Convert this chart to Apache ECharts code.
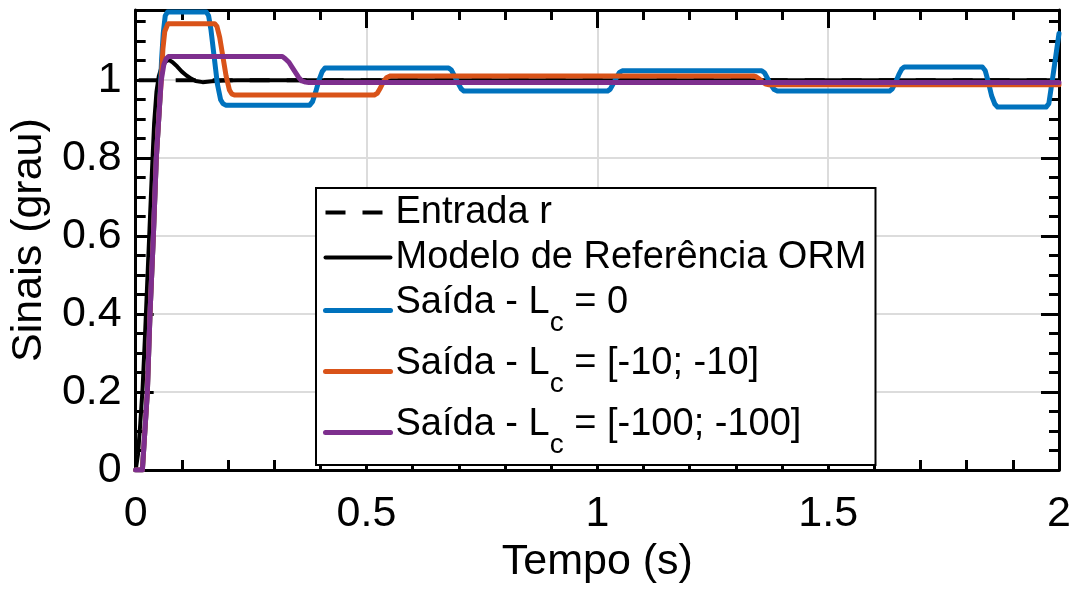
<!DOCTYPE html>
<html>
<head>
<meta charset="utf-8">
<script src="https://cdn.jsdelivr.net/npm/echarts@6/dist/echarts.min.js"></script>
<style>
  html, body { margin: 0; padding: 0; background: #fff; }
  #chart { width: 1074px; height: 589px; }
</style>
</head>
<body>
<div id="chart"></div>
<script>
// ---------- data ----------
const seriesNames = ['Entrada r', 'Modelo de Referência ORM', 'Saída - Lc = 0', 'Saída - Lc = [-10; -10]', 'Saída - Lc = [-100; -100]'];

const inputT = [0, 2];
const inputY = [1, 1];

const modelT = [0, 0.005, 0.01, 0.015, 0.02, 0.025, 0.03, 0.035, 0.04, 0.045, 0.05, 0.055, 0.065, 0.072, 0.08, 0.09, 0.10, 0.11, 0.12, 0.13, 0.145, 0.165, 0.19, 0.22, 2.0];
const modelY = [0, 0.04, 0.12, 0.21, 0.34, 0.48, 0.62, 0.76, 0.89, 0.97, 1.01, 1.03, 1.048, 1.052, 1.046, 1.035, 1.022, 1.012, 1.004, 0.998, 0.995, 0.997, 0.999, 1.0, 1.0];

const blueT = [0, 0.0145, 0.0253, 0.031, 0.0383, 0.0447, 0.0525, 0.056, 0.0597, 0.064, 0.069, 0.153, 0.158, 0.163, 0.170, 0.177, 0.184, 0.189, 0.195, 0.377, 0.383, 0.390, 0.397, 0.404, 0.410, 0.678, 0.684, 0.691, 0.698, 0.705, 0.711, 1.022, 1.028, 1.035, 1.042, 1.048, 1.054, 1.356, 1.362, 1.369, 1.376, 1.383, 1.390, 1.633, 1.639, 1.646, 1.653, 1.659, 1.665, 1.834, 1.840, 1.847, 1.854, 1.861, 1.867, 1.972, 1.978, 1.988, 2.0];
const blueY = [0, 0, 0.2, 0.4, 0.6, 0.8, 0.95, 1.05, 1.12, 1.165, 1.175, 1.175, 1.165, 1.13, 1.06, 0.99, 0.95, 0.94, 0.936, 0.936, 0.945, 0.97, 1.0, 1.022, 1.031, 1.031, 1.026, 1.01, 0.993, 0.978, 0.972, 0.972, 0.977, 0.992, 1.008, 1.02, 1.024, 1.024, 1.019, 1.004, 0.988, 0.976, 0.972, 0.972, 0.978, 0.995, 1.014, 1.028, 1.034, 1.034, 1.025, 0.995, 0.96, 0.939, 0.931, 0.931, 0.94, 1.02, 1.12];

const orangeT = [0, 0.0145, 0.0253, 0.031, 0.0383, 0.0447, 0.0525, 0.0555, 0.059, 0.063, 0.07, 0.171, 0.176, 0.182, 0.189, 0.196, 0.203, 0.208, 0.214, 0.517, 0.523, 0.530, 0.537, 0.544, 0.552, 1.338, 1.344, 1.351, 1.358, 1.365, 1.372, 2.0];
const orangeY = [0, 0, 0.2, 0.4, 0.6, 0.8, 0.95, 1.0, 1.08, 1.125, 1.145, 1.145, 1.138, 1.11, 1.06, 1.01, 0.975, 0.965, 0.962, 0.962, 0.966, 0.98, 0.997, 1.007, 1.011, 1.011, 1.009, 1.003, 0.995, 0.99, 0.988, 0.988];

const purpleT = [0, 0.0145, 0.0253, 0.031, 0.0383, 0.0447, 0.0525, 0.0555, 0.061, 0.066, 0.071, 0.3175, 0.324, 0.332, 0.339, 0.346, 0.353, 0.360, 0.368, 0.375, 2.0];
const purpleY = [0, 0, 0.2, 0.4, 0.6, 0.8, 0.95, 1.0, 1.04, 1.055, 1.061, 1.061, 1.055, 1.046, 1.033, 1.02, 1.007, 0.998, 0.995, 0.994, 0.994];

const xTicks = [0, 0.5, 1, 1.5, 2];
const yTicks = [0, 0.2, 0.4, 0.6, 0.8, 1];

// ---------- chart ----------
const FONT = '"Liberation Sans", Arial, Helvetica, sans-serif';
const pairs = (T, Y) => T.map((t, i) => [t, Y[i]]);
const fmtNum = v => String(Math.round(v * 100) / 100);

const chart = echarts.init(document.getElementById('chart'), null, { renderer: 'canvas' });

const axisLineStyle = { color: '#000', width: 3 };
const majorTick = { show: true, inside: true, length: 18, lineStyle: { color: '#000', width: 3 } };
const minorTickX = { show: true, splitNumber: 5, length: 10, lineStyle: { color: '#000', width: 3 } };
const minorTickYAxis = { show: true, inside: true, length: 10, lineStyle: { color: '#000', width: 3 } };

const legendRich = {
  n: { fontSize: 38, fontFamily: FONT, color: '#000', height: 45, lineHeight: 45, verticalAlign: 'top' },
  s: { fontSize: 28, fontFamily: FONT, color: '#000', height: 27, padding: [30, 0, 4, 0], lineHeight: 61, verticalAlign: 'top' }
};

function legendLabel(name) {
  const m = name.match(/^(Saída - L)c( = .*)$/);
  if (m) return '{n|' + m[1] + '}{s|c}{n|' + m[2] + '}';
  return '{n|' + name + '}';
}

const seriesColors = ['#000000', '#000000', '#0072BD', '#D95319', '#7E2F8E'];

const option = {
  backgroundColor: '#fff',
  animation: false,
  textStyle: { fontFamily: FONT, color: '#000' },
  grid: { left: 133, right: 15, top: 10, bottom: 115, containLabel: false },
  legend: {
    show: true,
    orient: 'vertical',
    left: 316,
    top: 188,
    itemWidth: 65,
    itemHeight: 14,
    itemGap: 0,
    padding: [2, 9, 2, 7],
    borderColor: '#000',
    borderWidth: 2,
    backgroundColor: '#fff',
    selectedMode: false,
    z: 10,
    itemStyle: { opacity: 0 },
    lineStyle: { width: 'inherit' },
    data: seriesNames.map((n, i) => i === 0 ? { name: n, lineStyle: { dashOffset: 0 } } : { name: n }),
    formatter: legendLabel,
    textStyle: { rich: legendRich, fontSize: 38, fontFamily: FONT, color: '#000', backgroundColor: 'rgba(255,255,255,0)' }
  },
  xAxis: [
    {
      type: 'value', position: 'bottom', min: 0, max: 2, interval: 0.5,
      name: 'Tempo (s)', nameLocation: 'middle', nameGap: 66,
      nameTextStyle: { fontSize: 43, fontFamily: FONT, color: '#000' },
      axisLine: { show: true, onZero: false, lineStyle: axisLineStyle },
      axisTick: majorTick,
      minorTick: minorTickX,
      axisLabel: { show: true, fontSize: 43, fontFamily: FONT, color: '#000', margin: 23, formatter: fmtNum },
      splitLine: { show: true, lineStyle: { color: '#dcdcdc', width: 2 } }
    },
    {
      type: 'value', position: 'top', min: 0, max: 2, interval: 0.5,
      axisLine: { show: true, onZero: false, lineStyle: axisLineStyle },
      axisTick: majorTick,
      minorTick: minorTickX,
      axisLabel: { show: false },
      splitLine: { show: false }
    }
  ],
  yAxis: [
    {
      type: 'value', position: 'left', min: 0, max: 1.18, interval: 0.2,
      name: 'Sinais (grau)', nameLocation: 'middle', nameGap: 72,
      nameTextStyle: { fontSize: 43, fontFamily: FONT, color: '#000' },
      axisLine: { show: true, onZero: false, lineStyle: axisLineStyle },
      axisTick: majorTick,
      axisLabel: { show: true, fontSize: 43, fontFamily: FONT, color: '#000', margin: 14, showMaxLabel: false, formatter: fmtNum },
      splitLine: { show: true, lineStyle: { color: '#dcdcdc', width: 2 } }
    },
    {
      type: 'value', position: 'right', min: 0, max: 1.18, interval: 0.2,
      axisLine: { show: true, onZero: false, lineStyle: axisLineStyle },
      axisTick: majorTick,
      axisLabel: { show: false },
      splitLine: { show: false }
    },
    {
      type: 'value', position: 'left', min: 0, max: 1.18, interval: 0.05,
      axisLine: { show: false, onZero: false },
      axisTick: minorTickYAxis,
      axisLabel: { show: false },
      splitLine: { show: false }
    },
    {
      type: 'value', position: 'right', min: 0, max: 1.18, interval: 0.05,
      axisLine: { show: false, onZero: false },
      axisTick: minorTickYAxis,
      axisLabel: { show: false },
      splitLine: { show: false }
    }
  ],
  series: [
    {
      name: seriesNames[0], type: 'line', xAxisIndex: 0, yAxisIndex: 0,
      data: pairs(inputT, inputY), showSymbol: false, symbol: 'none', clip: true,
      itemStyle: { color: seriesColors[0] },
      lineStyle: { color: seriesColors[0], width: 4, type: [20, 17], dashOffset: 34 }
    },
    {
      name: seriesNames[1], type: 'line', xAxisIndex: 0, yAxisIndex: 0,
      data: pairs(modelT, modelY), showSymbol: false, symbol: 'none', clip: true,
      itemStyle: { color: seriesColors[1] },
      lineStyle: { color: seriesColors[1], width: 4, join: 'round', cap: 'round' }
    },
    {
      name: seriesNames[2], type: 'line', xAxisIndex: 0, yAxisIndex: 0,
      data: pairs(blueT, blueY), showSymbol: false, symbol: 'none', clip: true,
      itemStyle: { color: seriesColors[2] },
      lineStyle: { color: seriesColors[2], width: 5, join: 'round', cap: 'round' }
    },
    {
      name: seriesNames[3], type: 'line', xAxisIndex: 0, yAxisIndex: 0,
      data: pairs(orangeT, orangeY), showSymbol: false, symbol: 'none', clip: true,
      itemStyle: { color: seriesColors[3] },
      lineStyle: { color: seriesColors[3], width: 5, join: 'round', cap: 'round' }
    },
    {
      name: seriesNames[4], type: 'line', xAxisIndex: 0, yAxisIndex: 0,
      data: pairs(purpleT, purpleY), showSymbol: false, symbol: 'none', clip: true,
      itemStyle: { color: seriesColors[4] },
      lineStyle: { color: seriesColors[4], width: 5, join: 'round', cap: 'round' }
    }
  ]
};

chart.setOption(option);
</script>
</body>
</html>
